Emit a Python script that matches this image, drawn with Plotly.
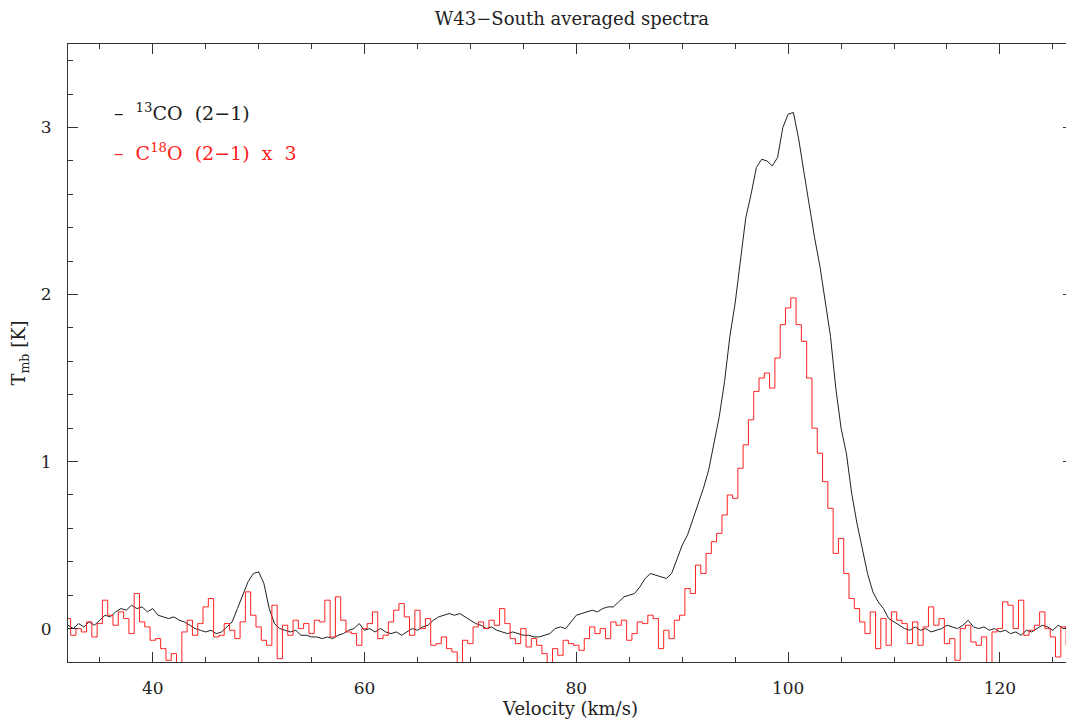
import plotly.graph_objects as go

# channel grid of the averaged spectra (km/s)
v_start = 32.0
dv = 0.5

# 13CO (2-1) Tmb [K], one value per channel, rows of 10 channels
t_13co = [
    0.02, 0.00, 0.03, 0.01, 0.04, 0.02, 0.05, 0.08, 0.07, 0.10,   # 32.0
    0.12, 0.11, 0.14, 0.12, 0.13, 0.10, 0.12, 0.08, 0.07, 0.06,   # 37.0
    0.07, 0.05, 0.04, 0.02, 0.00, -0.01, -0.02, -0.01, -0.03, -0.02,   # 42.0
    0.01, 0.04, 0.12, 0.20, 0.28, 0.33, 0.34, 0.27, 0.12, 0.03,   # 47.0
    0.00, -0.01, -0.02, -0.01, -0.04, -0.04, -0.05, -0.05, -0.06, -0.05,   # 52.0
    -0.06, -0.04, -0.03, -0.01, 0.00, 0.03, -0.01, 0.00, -0.02, 0.00,   # 57.0
    -0.02, -0.03, -0.02, -0.04, -0.02, 0.00, -0.01, 0.01, 0.02, 0.05,   # 62.0
    0.07, 0.08, 0.09, 0.08, 0.09, 0.07, 0.05, 0.03, 0.02, 0.00,   # 67.0
    0.01, -0.01, -0.02, -0.03, -0.02, -0.03, -0.04, -0.04, -0.05, -0.05,   # 72.0
    -0.04, -0.03, 0.00, 0.01, 0.00, 0.04, 0.08, 0.09, 0.10, 0.11,   # 77.0
    0.10, 0.12, 0.13, 0.13, 0.16, 0.19, 0.20, 0.21, 0.25, 0.30,   # 82.0
    0.33, 0.32, 0.31, 0.30, 0.33, 0.42, 0.50, 0.56, 0.65, 0.74,   # 87.0
    0.84, 0.95, 1.10, 1.27, 1.48, 1.75, 1.95, 2.20, 2.46, 2.60,   # 92.0
    2.76, 2.81, 2.80, 2.77, 2.82, 3.00, 3.08, 3.09, 2.93, 2.73,   # 97.0
    2.52, 2.34, 2.17, 1.96, 1.75, 1.44, 1.20, 1.05, 0.81, 0.63,   # 102.0
    0.47, 0.33, 0.22, 0.16, 0.12, 0.06, 0.04, 0.02, 0.00, -0.01,   # 107.0
    0.01, -0.01, 0.00, -0.02, -0.01, 0.00, 0.02, 0.01, 0.00, 0.02,   # 112.0
    0.05, 0.01, 0.00, 0.01, -0.01, 0.00, -0.02, -0.01, -0.03, -0.02,   # 117.0
    -0.04, -0.01, -0.02, 0.00, 0.02, 0.01, -0.01, 0.02, 0.00, 0.01,   # 122.0
    0.02,   # 127.0
]

# C18O (2-1) Tmb [K], already multiplied by 3
t_c18o_x3 = [
    0.06, -0.04, 0.00, -0.02, 0.04, -0.05, 0.03, 0.17, 0.08, 0.02,   # 32.0
    0.10, 0.06, -0.03, 0.21, 0.04, 0.01, -0.07, -0.06, -0.12, -0.19,   # 37.0
    -0.15, -0.25, -0.02, 0.05, -0.04, 0.03, 0.13, 0.18, -0.05, -0.04,   # 42.0
    0.03, -0.01, -0.06, 0.04, 0.22, 0.08, 0.01, -0.07, -0.10, 0.14,   # 47.0
    -0.18, 0.02, -0.04, 0.05, 0.00, 0.03, -0.03, 0.05, 0.04, 0.17,   # 52.0
    -0.05, 0.19, 0.05, -0.02, -0.03, -0.10, 0.00, 0.03, 0.10, -0.06,   # 57.0
    -0.04, 0.04, 0.11, 0.15, 0.07, -0.04, 0.11, 0.00, 0.06, -0.10,   # 62.0
    -0.09, -0.05, -0.12, -0.14, -0.25, -0.07, -0.09, 0.01, 0.04, 0.00,   # 67.0
    0.05, 0.02, 0.12, 0.03, -0.06, -0.09, 0.00, -0.11, -0.06, -0.10,   # 72.0
    -0.15, -0.25, -0.12, -0.16, -0.07, -0.09, -0.10, -0.13, -0.06, 0.01,   # 77.0
    -0.03, 0.00, -0.06, 0.04, 0.02, 0.05, -0.07, -0.03, 0.04, 0.03,   # 82.0
    0.08, 0.06, -0.12, -0.01, -0.06, 0.05, 0.08, 0.24, 0.21, 0.38,   # 87.0
    0.33, 0.45, 0.52, 0.57, 0.68, 0.80, 0.78, 0.96, 1.10, 1.25,   # 92.0
    1.42, 1.50, 1.53, 1.44, 1.62, 1.82, 1.92, 1.98, 1.82, 1.72,   # 97.0
    1.50, 1.20, 1.05, 0.88, 0.72, 0.45, 0.54, 0.33, 0.18, 0.12,   # 102.0
    0.04, -0.03, 0.10, -0.12, 0.06, -0.10, 0.10, 0.05, 0.03, -0.09,   # 107.0
    0.04, -0.10, 0.01, 0.13, 0.02, 0.06, -0.09, -0.06, -0.19, 0.00,   # 112.0
    0.02, -0.08, -0.10, -0.05, -0.25, -0.02, 0.00, 0.16, 0.14, 0.00,   # 117.0
    0.17, -0.04, -0.01, 0.02, 0.10, 0.00, -0.05, -0.17, 0.01, -0.10,   # 122.0
    0.08,   # 127.0
]

velocity = [v_start + dv * i for i in range(len(t_13co))]

font = "DejaVu Serif"

fig = go.Figure()
fig.add_trace(go.Scatter(x=velocity, y=t_13co, mode="lines", name="13CO (2-1)",
                         line=dict(color="#202020", width=1, shape="linear")))
fig.add_trace(go.Scatter(x=velocity, y=t_c18o_x3, mode="lines", name="C18O (2-1) x 3",
                         line=dict(color="#ff2020", width=1, shape="hvh")))

axis_style = dict(showline=True, linecolor="#333333", linewidth=1, mirror="allticks",
                  ticks="inside", ticklen=10, tickcolor="#333333", showgrid=False,
                  zeroline=False, automargin=False,
                  tickfont=dict(family=font, size=17, color="#222222"))

fig.update_xaxes(range=[32.0, 126.9], tick0=0, dtick=20, ticklabelstandoff=11,
                 minor=dict(dtick=5, ticks="inside", ticklen=5, tickcolor="#333333"),
                 title=dict(text="Velocity (km/s)", standoff=0,
                            font=dict(family=font, size=18, color="#222222")),
                 **axis_style)
fig.update_yaxes(range=[-0.2, 3.5], tick0=0, dtick=1, ticklabelstandoff=12,
                 minor=dict(dtick=0.2, ticks="inside", ticklen=5, tickcolor="#333333"),
                 title=dict(text="T<sub>mb</sub> [K]", standoff=10,
                            font=dict(family=font, size=18, color="#222222")),
                 **axis_style)

fig.add_annotation(x=0.044, y=0.89, xref="paper", yref="paper", xanchor="left", yanchor="middle",
                   showarrow=False, text="–  <sup>13</sup>CO  (2−1)",
                   font=dict(family=font, size=19, color="#202020"))
fig.add_annotation(x=0.044, y=0.825, xref="paper", yref="paper", xanchor="left", yanchor="middle",
                   showarrow=False, text="–  C<sup>18</sup>O  (2−1)  x  3",
                   font=dict(family=font, size=19, color="#ff2020"))

# the page adds an 8 px body margin, so the figure is sized and padded to make up for it
fig.update_layout(
    width=1066, height=714,
    margin=dict(l=60, r=1, t=36, b=60),
    paper_bgcolor="white", plot_bgcolor="white",
    showlegend=False,
    title=dict(text="W43−South averaged spectra", x=0.529, xanchor="center", y=0.994, yanchor="top",
               pad=dict(t=0, b=0), font=dict(family=font, size=18, color="#222222")),
)

fig.write_html("out.html")
